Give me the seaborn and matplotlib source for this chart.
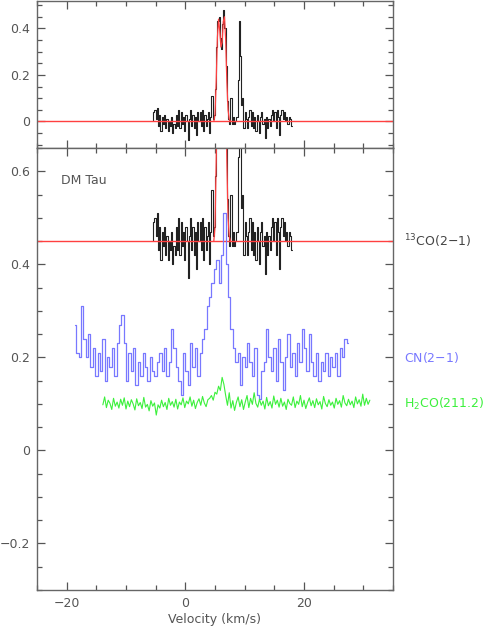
import numpy as np
import pandas as pd
import seaborn as sns
import matplotlib.pyplot as plt

# 13CO(2-1) spectrum (K), channels from -5.5 km/s, 0.2 km/s wide
co_v0, co_dv = -5.5, 0.2
co_t = [0.00, 0.04, 0.05, 0.01, 0.06, -0.02, 0.03, -0.04, 0.02, -0.01,
        0.03, -0.03, 0.01, -0.04, 0.00, -0.02, 0.02, -0.05, -0.01, -0.03,
        0.03, -0.02, 0.05, -0.03, 0.04, -0.01, 0.02, -0.04, 0.03, 0.00,
        -0.08, 0.01, 0.05, -0.02, 0.03, -0.03, 0.02, -0.06, 0.04, 0.00,
        0.04, -0.02, 0.05, -0.04, 0.03, -0.02, 0.01, 0.04, -0.05, 0.02,
        0.11, 0.01, 0.03, 0.14, 0.32, 0.43, 0.45, 0.36, 0.31, 0.42,
        0.48, 0.40, 0.24, 0.09, 0.01, -0.01, 0.10, -0.01, 0.02, -0.01,
        0.00, 0.02, 0.18, 0.43, 0.28, 0.07, 0.10, -0.03, 0.04, 0.01,
        -0.03, 0.02, 0.05, -0.02, 0.04, -0.03, 0.02, -0.04, 0.03, 0.00,
        -0.05, 0.02, 0.04, -0.01, 0.01, -0.07, 0.02, -0.03, 0.01, -0.02,
        0.03, 0.05, 0.00, 0.04, -0.03, 0.05, 0.02, -0.06, 0.03, 0.05,
        0.01, 0.04, 0.00, 0.02, -0.01, 0.02, 0.01, -0.02]

# model fit of the 13CO line
fit_v = [4.8, 5.0, 5.2, 5.4, 5.6, 5.8, 6.0, 6.2, 6.4, 6.6, 6.8, 7.0, 7.2, 7.4, 7.6]
fit_t = [0.00, 0.03, 0.17, 0.36, 0.44, 0.39, 0.32, 0.34, 0.43, 0.45,
         0.35, 0.17, 0.05, 0.01, 0.00]

# CN(2-1) spectrum, channels from -18.6 km/s, 0.4 km/s wide
cn_v0, cn_dv = -18.6, 0.4
cn_t = [0.27, 0.21, 0.20, 0.31, 0.24, 0.20, 0.25, 0.18, 0.22, 0.16,
        0.21, 0.17, 0.24, 0.15, 0.20, 0.18, 0.22, 0.16, 0.23, 0.27,
        0.29, 0.23, 0.15, 0.21, 0.17, 0.22, 0.14, 0.19, 0.16, 0.21,
        0.18, 0.15, 0.20, 0.17, 0.16, 0.19, 0.21, 0.17, 0.22, 0.16,
        0.19, 0.26, 0.22, 0.18, 0.15, 0.12, 0.21, 0.17, 0.14, 0.23,
        0.18, 0.22, 0.16, 0.21, 0.24, 0.26, 0.31, 0.33, 0.36, 0.39,
        0.41, 0.36, 0.42, 0.51, 0.40, 0.33, 0.26, 0.22, 0.19, 0.21,
        0.14, 0.20, 0.18, 0.23, 0.19, 0.16, 0.22, 0.12, 0.11, 0.17,
        0.19, 0.26, 0.20, 0.17, 0.22, 0.15, 0.24, 0.19, 0.13, 0.20,
        0.25, 0.18, 0.21, 0.16, 0.23, 0.19, 0.26, 0.22, 0.17, 0.25,
        0.19, 0.16, 0.21, 0.15, 0.19, 0.17, 0.21, 0.16, 0.20, 0.18,
        0.21, 0.16, 0.22, 0.20, 0.24, 0.23]

# H2CO(211.2) spectrum, channels from -13.9 km/s, 0.3 km/s wide
h2co_v0, h2co_dv = -13.9, 0.3
h2co_t = [0.098, 0.115, 0.092, 0.108, 0.101, 0.088, 0.112, 0.095, 0.104, 0.091,
          0.110, 0.097, 0.113, 0.089, 0.106, 0.094, 0.109, 0.100, 0.087, 0.111,
          0.096, 0.103, 0.090, 0.114, 0.093, 0.099, 0.085, 0.107, 0.095, 0.102,
          0.076, 0.098, 0.091, 0.108, 0.094, 0.103, 0.088, 0.112, 0.097, 0.105,
          0.093, 0.110, 0.089, 0.104, 0.098, 0.113, 0.092, 0.106, 0.100, 0.115,
          0.095, 0.108, 0.090, 0.103, 0.111, 0.097, 0.116, 0.102, 0.094, 0.109,
          0.112, 0.118, 0.108, 0.125, 0.121, 0.138, 0.129, 0.157, 0.142, 0.118,
          0.097, 0.124, 0.091, 0.107, 0.086, 0.103, 0.115, 0.094, 0.109, 0.088,
          0.104, 0.118, 0.092, 0.112, 0.099, 0.124, 0.101, 0.093, 0.110, 0.097,
          0.106, 0.089, 0.114, 0.096, 0.105, 0.091, 0.117, 0.099, 0.108, 0.093,
          0.112, 0.095, 0.104, 0.088, 0.110, 0.101, 0.097, 0.115, 0.092, 0.106,
          0.099, 0.118, 0.094, 0.108, 0.090, 0.103, 0.113, 0.096, 0.107, 0.092,
          0.111, 0.098, 0.105, 0.089, 0.116, 0.101, 0.094, 0.109, 0.097, 0.104,
          0.091, 0.112, 0.099, 0.107, 0.093, 0.118, 0.102, 0.096, 0.110, 0.098,
          0.106, 0.092, 0.115, 0.100, 0.109, 0.095, 0.121, 0.097, 0.112, 0.099,
          0.108]

co_offset = 0.45  # 13CO shifted up in the stacked panel

co = pd.DataFrame({"v": co_v0 + co_dv * np.arange(len(co_t)), "t": co_t})
cn = pd.DataFrame({"v": cn_v0 + cn_dv * np.arange(len(cn_t)), "t": cn_t})
h2co = pd.DataFrame({"v": h2co_v0 + h2co_dv * np.arange(len(h2co_t)), "t": h2co_t})
fit = pd.DataFrame({"v": fit_v, "t": fit_t})

sns.set_style("ticks")
plt.rcParams["font.family"] = ["DejaVu Sans"]
plt.rcParams["mathtext.default"] = "regular"

grey = "#555555"
blue = "#7878ff"
green = "#3cf03c"
red = "#ff4040"
fs = 9

fig = plt.figure(figsize=(4.84, 6.27), dpi=100)
ax_top = fig.add_axes([37 / 484, 1 - 148 / 627, 356 / 484, 147 / 627])
ax = fig.add_axes([37 / 484, 1 - 590 / 627, 356 / 484, 442 / 627])

# top panel: 13CO with its fit
sns.lineplot(data=co, x="v", y="t", ax=ax_top, color="#222222", lw=0.8,
             estimator=None, drawstyle="steps-mid")
ax_top.axhline(0, color=red, lw=1.0)
sns.lineplot(data=fit, x="v", y="t", ax=ax_top, color=red, lw=0.9, estimator=None)

# bottom panel: stacked spectra
sns.lineplot(x=co["v"], y=co["t"] + co_offset, ax=ax, color="#222222", lw=0.8,
             estimator=None, drawstyle="steps-mid")
ax.axhline(co_offset, color=red, lw=1.0)
sns.lineplot(x=fit["v"], y=fit["t"] + co_offset, ax=ax, color=red, lw=0.9,
             estimator=None)
sns.lineplot(data=cn, x="v", y="t", ax=ax, color=blue, lw=0.9,
             estimator=None, drawstyle="steps-mid")
sns.lineplot(data=h2co, x="v", y="t", ax=ax, color=green, lw=0.8, estimator=None)

ax_top.set_xlim(-25, 35)
ax_top.set_ylim(-0.114, 0.518)
ax.set_xlim(-25, 35)
ax.set_ylim(-0.3, 0.65)

ax_top.set_yticks([0, 0.2, 0.4])
ax_top.set_yticklabels(["0", "0.2", "0.4"])
ax_top.set_yticks(np.arange(-0.1, 0.51, 0.05), minor=True)
ax_top.set_xticks([-20, 0, 20])
ax_top.set_xticks(np.arange(-25, 36, 5), minor=True)
ax_top.tick_params(labelbottom=False)

ax.set_yticks([-0.2, 0, 0.2, 0.4, 0.6])
ax.set_yticklabels(["\u22120.2", "0", "0.2", "0.4", "0.6"])
ax.set_yticks(np.arange(-0.3, 0.651, 0.05), minor=True)
ax.set_xticks([-20, 0, 20])
ax.set_xticklabels(["\u221220", "0", "20"])
ax.set_xticks(np.arange(-25, 36, 5), minor=True)

for a in (ax_top, ax):
    a.set_xlabel("")
    a.set_ylabel("")
    a.tick_params(which="both", direction="in", top=True, right=True,
                  color=grey, width=0.9, labelsize=fs, labelcolor=grey)
    a.tick_params(which="major", length=5.5, pad=5)
    a.tick_params(which="minor", length=3.5)
    a.tick_params(axis="x", which="major", pad=5)
    for s in a.spines.values():
        s.set_color("#666666")
        s.set_linewidth(1.0)

ax.set_xlabel("Velocity (km/s)", color=grey, fontsize=fs, labelpad=2.5)

ax.text(-21, 0.58, "DM Tau", color=grey, fontsize=fs, va="center")
ax.text(1.03, co_offset, "$^{13}$CO(2$-$1)", transform=ax.get_yaxis_transform(),
        color="#444444", fontsize=fs, va="center")
ax.text(1.03, 0.2, "CN(2$-$1)", transform=ax.get_yaxis_transform(),
        color=blue, fontsize=fs, va="center")
ax.text(1.03, 0.1, "H$_2$CO(211.2)", transform=ax.get_yaxis_transform(),
        color=green, fontsize=fs, va="center")

fig.savefig("out.png", dpi=100)
